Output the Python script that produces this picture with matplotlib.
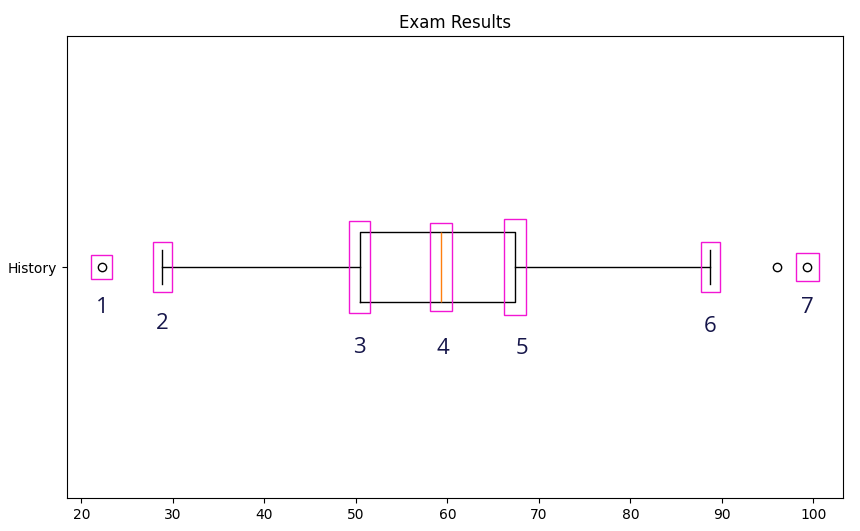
import matplotlib.pyplot as plt
from matplotlib.patches import Rectangle

# box statistics
subject = "History"
q1 = 50.4
median = 59.3
q3 = 67.4
whisker_low = 28.85
whisker_high = 88.75
outliers = [22.25, 96.0, 99.35]

# annotation numbers, one per feature
labels = ["1", "2", "3", "4", "5", "6", "7"]

stats = [{
    "label": subject,
    "q1": q1,
    "med": median,
    "q3": q3,
    "whislo": whisker_low,
    "whishi": whisker_high,
    "fliers": outliers,
}]

fig = plt.figure(figsize=(8.6, 5.31), dpi=100)
ax = fig.add_axes([66.7 / 860, 33 / 531, 776 / 860, 462 / 531])
ax.bxp(stats, vert=False, widths=0.15)
ax.set_ylim(0.5, 1.5)
ax.set_title("Exam Results")

# features that get a box + number: (x, half width, half height, label x shift, label y)
features = [
    (outliers[0], 1.15, 0.025, 0.0, 0.912),
    (whisker_low, 1.05, 0.055, 0.0, 0.878),
    (q1, 1.15, 0.099, 0.0, 0.826),
    (median, 1.18, 0.095, 0.2, 0.824),
    (q3, 1.2, 0.103, 0.7, 0.824),
    (whisker_high, 1.0, 0.055, 0.0, 0.872),
    (outliers[2], 1.3, 0.03, 0.0, 0.913),
]

magenta = "#f216d4"
for (x, hw, hh, dx, ly), lab in zip(features, labels):
    ax.add_patch(Rectangle((x - hw, 1 - hh), 2 * hw, 2 * hh, fill=False,
                           edgecolor=magenta, linewidth=1.0, zorder=5))
    ax.text(x + dx, ly, lab, ha="center", va="center",
            fontsize=16, color="#16164a", family=["Open Sans", "DejaVu Sans"])

plt.savefig("out.png", dpi=100)
